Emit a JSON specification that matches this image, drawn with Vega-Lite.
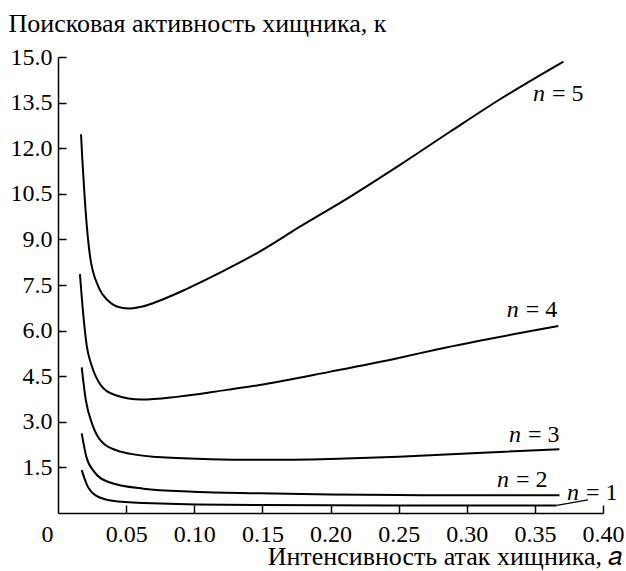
{
  "$schema": "https://vega.github.io/schema/vega-lite/v6.json",
  "width": 545,
  "height": 456,
  "autosize": {"type": "none"},
  "padding": {"left": 58, "top": 57, "right": 23, "bottom": 58},
  "background": "white",
  "config": {
    "view": {"stroke": null},
    "font": "Liberation Serif",
    "text": {"font": "Liberation Serif"},
    "axis": {
      "grid": false,
      "domainColor": "black",
      "domainWidth": 1.5,
      "tickColor": "black",
      "tickWidth": 1.5,
      "tickSize": -8,
      "labelFont": "Liberation Serif",
      "labelFontSize": 24,
      "labelColor": "black",
      "titleFont": "Liberation Serif",
      "titleFontSize": 26,
      "titleFontWeight": "normal",
      "titleColor": "black"
    }
  },
  "datasets": {
    "curves": [
      {"n": 5, "a": 0.0169, "k": 12.46}, {"n": 5, "a": 0.0178, "k": 11.67}, {"n": 5, "a": 0.0193, "k": 10.57}, {"n": 5, "a": 0.0211, "k": 9.47}, {"n": 5, "a": 0.0235, "k": 8.45}, {"n": 5, "a": 0.0296, "k": 7.45}, {"n": 5, "a": 0.0369, "k": 6.98}, {"n": 5, "a": 0.045, "k": 6.77}, {"n": 5, "a": 0.053, "k": 6.73}, {"n": 5, "a": 0.062, "k": 6.79}, {"n": 5, "a": 0.0749, "k": 6.99}, {"n": 5, "a": 0.0935, "k": 7.35}, {"n": 5, "a": 0.1116, "k": 7.74}, {"n": 5, "a": 0.13, "k": 8.16}, {"n": 5, "a": 0.148, "k": 8.6}, {"n": 5, "a": 0.1776, "k": 9.42}, {"n": 5, "a": 0.2143, "k": 10.4}, {"n": 5, "a": 0.251, "k": 11.45}, {"n": 5, "a": 0.2877, "k": 12.54}, {"n": 5, "a": 0.3244, "k": 13.61}, {"n": 5, "a": 0.371, "k": 14.85},
      {"n": 4, "a": 0.0161, "k": 7.86}, {"n": 4, "a": 0.0186, "k": 6.5}, {"n": 4, "a": 0.0211, "k": 5.5}, {"n": 4, "a": 0.0247, "k": 4.85}, {"n": 4, "a": 0.0315, "k": 4.2}, {"n": 4, "a": 0.0418, "k": 3.88}, {"n": 4, "a": 0.0614, "k": 3.73}, {"n": 4, "a": 0.0871, "k": 3.82}, {"n": 4, "a": 0.1238, "k": 4.05}, {"n": 4, "a": 0.148, "k": 4.21}, {"n": 4, "a": 0.2, "k": 4.65}, {"n": 4, "a": 0.25, "k": 5.1}, {"n": 4, "a": 0.278, "k": 5.38}, {"n": 4, "a": 0.3672, "k": 6.15},
      {"n": 3, "a": 0.0174, "k": 4.79}, {"n": 3, "a": 0.0204, "k": 3.72}, {"n": 3, "a": 0.0253, "k": 2.9}, {"n": 3, "a": 0.033, "k": 2.3}, {"n": 3, "a": 0.046, "k": 2.02}, {"n": 3, "a": 0.073, "k": 1.84}, {"n": 3, "a": 0.1116, "k": 1.77}, {"n": 3, "a": 0.148, "k": 1.75}, {"n": 3, "a": 0.2, "k": 1.78}, {"n": 3, "a": 0.25, "k": 1.85}, {"n": 3, "a": 0.3, "k": 1.96}, {"n": 3, "a": 0.368, "k": 2.1},
      {"n": 2, "a": 0.0174, "k": 2.62}, {"n": 2, "a": 0.0208, "k": 1.85}, {"n": 2, "a": 0.0265, "k": 1.36}, {"n": 2, "a": 0.037, "k": 1.02}, {"n": 2, "a": 0.0626, "k": 0.8}, {"n": 2, "a": 0.0993, "k": 0.7}, {"n": 2, "a": 0.148, "k": 0.65}, {"n": 2, "a": 0.2, "k": 0.61}, {"n": 2, "a": 0.25, "k": 0.59}, {"n": 2, "a": 0.3, "k": 0.58}, {"n": 2, "a": 0.368, "k": 0.58},
      {"n": 1, "a": 0.0174, "k": 1.41}, {"n": 1, "a": 0.0215, "k": 0.9}, {"n": 1, "a": 0.0283, "k": 0.56}, {"n": 1, "a": 0.04, "k": 0.4}, {"n": 1, "a": 0.0626, "k": 0.33}, {"n": 1, "a": 0.148, "k": 0.26}, {"n": 1, "a": 0.25, "k": 0.25}, {"n": 1, "a": 0.366, "k": 0.25}
    ],
    "labels": [
      {"n": 5, "a": 0.3486, "k": 13.55, "rest": "= 5"},
      {"n": 4, "a": 0.3293, "k": 6.46, "rest": "= 4"},
      {"n": 3, "a": 0.331, "k": 2.34, "rest": "= 3"},
      {"n": 2, "a": 0.3222, "k": 0.86, "rest": "= 2"},
      {"n": 1, "a": 0.3736, "k": 0.43, "rest": "= 1"}
    ],
    "leader": [
      {"a": 0.366, "k": 0.25, "a2": 0.389, "k2": 0.43}
    ]
  },
  "layer": [
    {
      "data": {"name": "curves"},
      "mark": {"type": "line", "color": "black", "strokeWidth": 2, "interpolate": "monotone"},
      "encoding": {
        "x": {
          "field": "a", "type": "quantitative",
          "scale": {"domain": [0, 0.4], "nice": false, "zero": false},
          "axis": {
            "values": [0, 0.05, 0.1, 0.15, 0.2, 0.25, 0.3, 0.35, 0.4],
            "labelExpr": "datum.value == 0 ? '0' : format(datum.value, '.2f')",
            "labelPadding": 17,
            "labelOffset": {"condition": {"test": "datum.value == 0", "value": -11}, "value": 0},
            "tickOpacity": {"condition": {"test": "datum.value == 0", "value": 0}, "value": 1},
            "labelFlush": false,
            "labelOverlap": false,
            "title": "Интенсивность атак хищника, 𝑎",
            "titleAlign": "right",
            "titleBaseline": "alphabetic",
            "titleX": 564,
            "titleY": 51
          }
        },
        "y": {
          "field": "k", "type": "quantitative",
          "scale": {"domain": [0, 15], "nice": false},
          "axis": {
            "values": [1.5, 3, 4.5, 6, 7.5, 9, 10.5, 12, 13.5, 15],
            "format": ".1f",
            "labelPadding": 14,
            "labelFlush": false,
            "labelOverlap": false,
            "title": "Поисковая активность хищника, к",
            "titleAngle": 0,
            "titleAlign": "left",
            "titleBaseline": "alphabetic",
            "titleX": -50,
            "titleY": -26
          }
        },
        "detail": {"field": "n", "type": "nominal"}
      }
    },
    {
      "data": {"name": "leader"},
      "mark": {"type": "rule", "color": "black", "strokeWidth": 1.3},
      "encoding": {
        "x": {"field": "a", "type": "quantitative"},
        "y": {"field": "k", "type": "quantitative"},
        "x2": {"field": "a2"},
        "y2": {"field": "k2"}
      }
    },
    {
      "data": {"name": "labels"},
      "mark": {"type": "text", "text": "n", "fontStyle": "italic", "fontSize": 24, "align": "left", "baseline": "alphabetic", "color": "black"},
      "encoding": {
        "x": {"field": "a", "type": "quantitative"},
        "y": {"field": "k", "type": "quantitative"}
      }
    },
    {
      "data": {"name": "labels"},
      "mark": {"type": "text", "fontSize": 24, "align": "left", "baseline": "alphabetic", "color": "black", "dx": 19},
      "encoding": {
        "x": {"field": "a", "type": "quantitative"},
        "y": {"field": "k", "type": "quantitative"},
        "text": {"field": "rest"}
      }
    }
  ]
}
